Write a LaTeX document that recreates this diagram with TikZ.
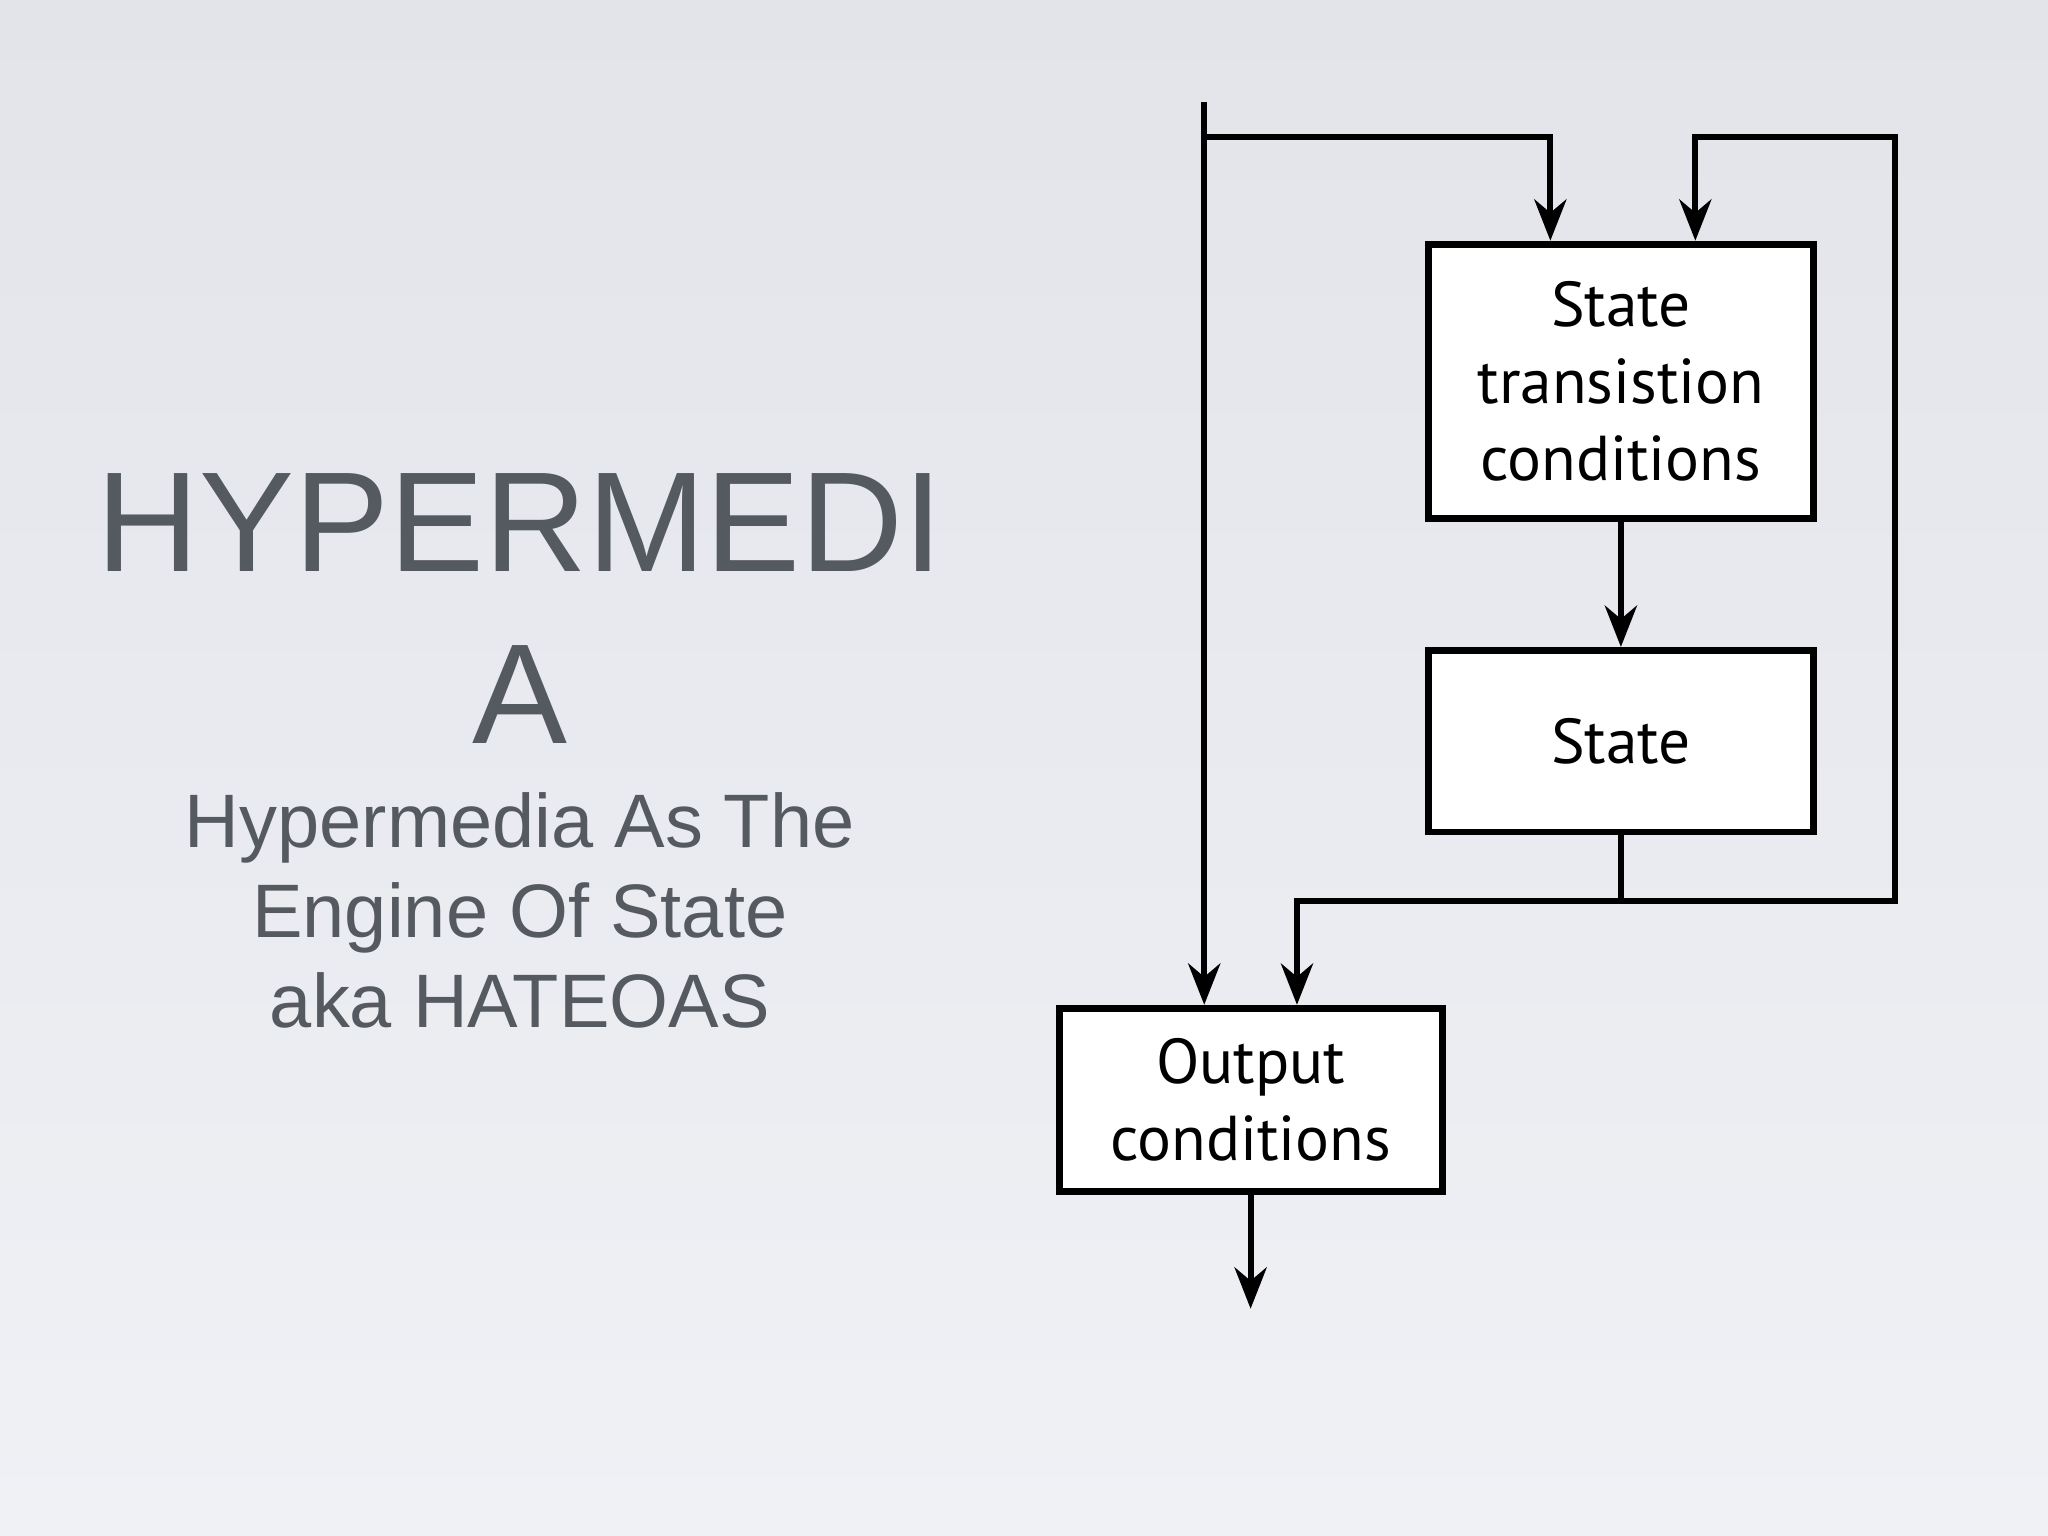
\documentclass[tikz,border=0pt]{standalone}
\usepackage{fontspec}
\setmainfont{Liberation Sans}
\newfontfamily\boxfont{PT Sans}
\usetikzlibrary{arrows.meta}
\definecolor{titlegray}{HTML}{555A60}
\begin{document}
\begin{tikzpicture}[x=0.01cm,y=-0.01cm,
  blk/.style={draw=black,line width=1.5pt,fill=white,minimum width=2.95cm,inner sep=0pt,align=center,font=\boxfont\fontsize{13.8}{16.8}\selectfont},
  wire/.style={line width=1.3pt},
  arr/.style={wire,-{Stealth[length=9pt,width=7pt]}},
  ttl/.style={text=titlegray,align=center}]
\shade[top color={rgb,255:red,226;green,228;blue,234},bottom color={rgb,255:red,240;green,241;blue,245}] (0,0) rectangle (1568,1176);
\useasboundingbox (0,0) rectangle (1568,1176);
\node[ttl,font=\fontsize{31}{37}\selectfont] (h1) at (398,400) {HYPERMEDI};
\node[ttl,font=\fontsize{31}{37}\selectfont] (h2) at (398,532) {A};
\node[ttl,font=\fontsize{16.5}{19.6}\selectfont] (sub) at (398,697) {Hypermedia As The\\Engine Of State\\aka HATEOAS};
\node[blk,minimum height=2.1cm] (stc) at (1241,292) {State\\transistion\\conditions};
\node[blk,minimum height=1.39cm] (st) at (1241,567.5) {State};
\node[blk,minimum height=1.4cm,minimum width=2.93cm] (out) at (957.5,842) {Output\\conditions};
\coordinate (top) at (922,78);
\coordinate (tj) at (922,105);
\coordinate (sj) at (1241,690);
\coordinate (end) at (957.5,1002);
\coordinate (c1) at (922,0);
\coordinate (c2) at (1187,0);
\coordinate (c3) at (1298,0);
\coordinate (c4) at (993,0);
\draw[arr] (top) -- (c1|-out.north);
\draw[arr] (tj) -| (c2|-stc.north);
\draw[arr] (stc.south) -- (st.north);
\draw[wire] (st.south) -- (sj);
\draw[arr] (sj) -| (1451,105) -| (c3|-stc.north);
\draw[arr] (sj) -| (c4|-out.north);
\draw[arr] (out.south) -- (end);
\end{tikzpicture}
\end{document}
